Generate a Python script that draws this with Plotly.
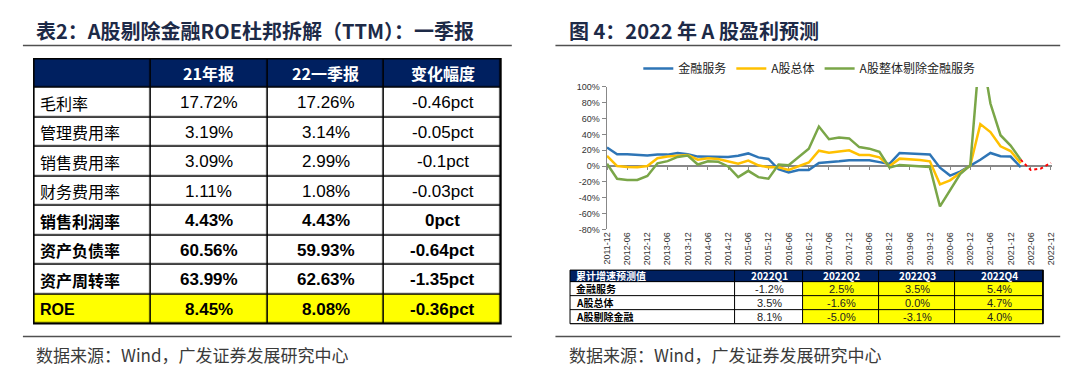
import plotly.graph_objects as go

W, H = 1080, 366


def px(x):
    return x / W


def py(y):
    return 1 - y / H


# ---------------- Left table data ----------------
roe_items = ["毛利率", "管理费用率", "销售费用率", "财务费用率",
             "销售利润率", "资产负债率", "资产周转率", "ROE"]
fy21 = [17.72, 3.19, 3.09, 1.11, 4.43, 60.56, 63.99, 8.45]
q1_22 = [17.26, 3.14, 2.99, 1.08, 4.43, 59.93, 62.63, 8.08]
chg_pct = [-0.46, -0.05, -0.1, -0.03, 0, -0.64, -1.35, -0.36]
left_header = ["", "21年报", "22一季报", "变化幅度"]

# ---------------- Right table data ----------------
fc_header = ["累计增速预测值", "2022Q1", "2022Q2", "2022Q3", "2022Q4"]
fc_rows = ["金融服务", "A股总体", "A股剔除金融"]
fc_fin = [-1.2, 2.5, 3.5, 5.4]
fc_all = [3.5, -1.6, 0.0, 4.7]
fc_exfin = [8.1, -5.0, -3.1, 4.0]

# ---------------- Line chart data (quarterly, 2011-12 .. 2022-03) ----------------
quarters = []
for yr in range(2011, 2023):
    for m in ["03", "06", "09", "12"]:
        q = f"{yr}-{m}"
        if "2011-12" <= q <= "2022-12":
            quarters.append(q)

fin_service = [23.5, 15, 15, 14.5, 13.5, 14.5, 14.5, 16.5, 15, 12, 12, 12, 11.5, 13, 16, 11,
               9, -4, -8, -5, -5, 4, 4.7, 6, 7.3, 7.3, 7.3, 5, 2.7, 16.6, 16, 16.2, 14.7,
               -2, -12, -7, 0, 8, 16.6, 12.5, 12, -1.2]
a_total = [13, 0, -1, -1.5, 0, 10, 12, 13, 14, 8, 10, 9, 6, 3, 7, 1,
           -1.5, -1.5, -5, 0, 4.5, 19.5, 17, 18.4, 20, 14, 14, 11, 0, 9.4, 8.6, 7.8, 6,
           -23, -18, -8, 0.8, 53, 43, 25, 19, 3.5]
a_ex_fin = [3, -16, -17.5, -17.5, -12.5, 3.5, 6.3, 11.6, 13.3, 2, 6, 5.5, -0.5, -14, -6, -14,
            -16, 2, 1, 12, 22, 50, 34, 36, 35, 24, 22, 18, -2, 1.5, 0.8, 0, -1.2,
            -51, -31, -10, 1, 155, 79, 39, 26, 8.1]
hist_q = quarters[:len(fin_service)]
fc_q = quarters[len(fin_service) - 1:]
y_ticks = list(range(-80, 101, 20))

TITLE_C = "#1d2a47"
NAVY = "#002060"
YEL = "#FFFF00"
FONT = "Liberation Sans, Noto Sans CJK SC, sans-serif"
CJK = "Noto Sans CJK SC, Liberation Sans, sans-serif"
CSCALE = [[0, "white"], [0.33, "white"], [0.33, YEL], [0.67, YEL], [0.67, NAVY], [1, NAVY]]

fig = go.Figure()
anns = []
shapes = []


def edges(sizes):
    out = [0.0]
    for s in sizes:
        out.append(out[-1] + s)
    return out


def add_table(ax, ay, dom_x, dom_y, colw, rowh, z, texts, fonts, gap, border):
    xe, ye = edges(colw), edges(rowh)
    fig.add_trace(go.Heatmap(x=xe, y=ye, z=z, colorscale=CSCALE, zmin=0, zmax=2,
                             showscale=False, xgap=gap, ygap=gap, hoverinfo="skip",
                             xaxis=ax, yaxis=ay))
    n = ax[1:]
    fig.layout[f"xaxis{n}"] = dict(domain=dom_x, range=[0, xe[-1]], visible=False,
                                   anchor=ay, fixedrange=True)
    fig.layout[f"yaxis{n}"] = dict(domain=dom_y, range=[ye[-1], 0], visible=False,
                                   anchor=ax, fixedrange=True)
    for r in range(len(rowh)):
        for c in range(len(colw)):
            t = texts[r][c]
            if not t:
                continue
            left = (c == 0 and r > 0) or (c == 0 and len(colw) == 5)
            anns.append(dict(text=t, xref=ax, yref=ay,
                             x=xe[c] + 4 if left else (xe[c] + xe[c + 1]) / 2,
                             xanchor="left" if left else "center",
                             y=(ye[r] + ye[r + 1]) / 2, yanchor="middle",
                             showarrow=False, font=fonts[r][c]))
    shapes.append(dict(type="rect", xref=f"{ax} domain", yref=f"{ay} domain",
                       x0=0, x1=1, y0=0, y1=1, fillcolor="black",
                       line=dict(width=0), layer="below"))
    shapes.append(dict(type="rect", xref=f"{ax} domain", yref=f"{ay} domain",
                       x0=0, x1=1, y0=0, y1=1, line=dict(color="black", width=border),
                       layer="above"))


# ---------------- Left table ----------------
n_items = len(roe_items)
z_left = [[2] * 4] + [[0] * 4 for _ in range(n_items - 1)] + [[1] * 4]
t_left = [[f"<b>{h}</b>" for h in left_header]]
f_left = [[dict(family=CJK, size=16, color="white")] * 4]
for i in range(n_items):
    b = i >= 4
    row = [roe_items[i], f"{fy21[i]:.2f}%", f"{q1_22[i]:.2f}%", f"{chg_pct[i]:g}pct"]
    t_left.append([f"<b>{s}</b>" if b else s for s in row])
    f_left.append([dict(family=CJK if i < 7 else FONT, size=16, color="black")] +
                  [dict(family=FONT, size=17, color="black")] * 3)
add_table("x3", "y3", [px(21), px(492)], [py(319.5), py(47)],
          [117.75] * 4, [30] + [30.3] * n_items, z_left, t_left, f_left, 1.6, 1.6)

# ---------------- Right table ----------------
z_fc = [[2] * 5] + [[0, 0, 1, 1, 1] for _ in fc_rows]
t_fc = [[f"<b>{h}</b>" for h in fc_header]]
f_fc = [[dict(family=CJK, size=10, color="white")] * 5]
for i, (name, s) in enumerate(zip(fc_rows, (fc_fin, fc_all, fc_exfin))):
    t_fc.append([f"<b>{name}</b>"] + [f"{v:.1f}%" for v in s])
    f_fc.append([dict(family=CJK, size=10, color="black")] +
                [dict(family=FONT, size=11, color="#222")] * 4)
add_table("x4", "y4", [px(561.7), px(1039)], [py(319.5), py(264.3)],
          [166.7, 68.3, 76.7, 76.7, 88.9], [12, 14.4, 14.4, 14.4], z_fc, t_fc, f_fc, 1, 1)

# ---------------- Line chart ----------------
fig.add_trace(go.Scatter(x=hist_q, y=fin_service, mode="lines", name="金融服务",
                         line=dict(color="#2E75B6", width=2.5)))
fig.add_trace(go.Scatter(x=hist_q, y=a_total, mode="lines", name="A股总体",
                         line=dict(color="#FFC000", width=2.5)))
fig.add_trace(go.Scatter(x=hist_q, y=a_ex_fin, mode="lines", name="A股整体剔除金融服务",
                         line=dict(color="#7AA648", width=2.5)))
fig.add_trace(go.Scatter(x=fc_q, y=fc_exfin, mode="lines", showlegend=False,
                         line=dict(color="#FF0000", width=2, dash="dot")))
# helper trace for zero-line axis
fig.add_trace(go.Scatter(x=quarters, y=[None] * len(quarters), xaxis="x2", yaxis="y",
                         mode="lines", showlegend=False, hoverinfo="skip"))

xr = [-0.05, len(quarters) - 1 + 0.13]
fig.update_layout(
    width=W, height=H, margin=dict(l=0, r=0, t=0, b=0),
    paper_bgcolor="white", plot_bgcolor="white",
    showlegend=True,
    legend=dict(orientation="h", x=px(803), xanchor="center", y=py(57), yanchor="middle",
                font=dict(family=CJK, size=12, color="#222"), itemwidth=30,
                bgcolor="rgba(0,0,0,0)"),
    xaxis=dict(domain=[px(598.5), px(1048)], type="category",
               categoryorder="array", categoryarray=quarters, range=xr,
               tickvals=quarters[::2], tickangle=-90, ticks="", showline=False,
               showgrid=False, zeroline=False, anchor="y",
               tickfont=dict(family=FONT, size=9, color="#333")),
    xaxis2=dict(overlaying="x", anchor="free", position=py(157.4), type="category",
                categoryorder="array", categoryarray=quarters, range=xr,
                tickvals=quarters[::2], showticklabels=False, ticks="outside", ticklen=3,
                tickcolor="#888", showline=True, linecolor="#888", linewidth=1.5,
                showgrid=False, zeroline=False, layer="below traces"),
    yaxis=dict(domain=[py(222.5), py(76)], range=[-80, 100], tickmode="array",
               tickvals=y_ticks, ticktext=[f"{v}%" for v in y_ticks],
               ticks="outside", ticklen=4, tickcolor="#888",
               showline=True, linecolor="#888", linewidth=1, showgrid=False,
               zeroline=False, tickfont=dict(family=FONT, size=9, color="#333")),
)

# ---------------- Titles, rules, sources ----------------
texts = [
    ("<b>表2：A股剔除金融ROE杜邦拆解（TTM）：一季报</b>", 21, 18, 20, TITLE_C),
    ("<b>图 4：2022 年 A 股盈利预测</b>", 559, 18, 20, TITLE_C),
    ("数据来源：Wind，广发证券发展研究中心", 21, 351, 17, "#3a3a3a"),
    ("数据来源：Wind，广发证券发展研究中心", 559, 351, 17, "#3a3a3a"),
]
for t, x, y, s, c in texts:
    anns.append(dict(text=t, x=px(x), y=py(y), xref="paper", yref="paper",
                     xanchor="left", yanchor="middle", showarrow=False,
                     font=dict(family=CJK, size=s, color=c)))

for x0, x1 in [(10, 503), (547, 1056)]:
    for yy in (33.5, 332.7):
        shapes.append(dict(type="line", xref="paper", yref="paper",
                           x0=px(x0), x1=px(x1), y0=py(yy), y1=py(yy),
                           line=dict(color="#505050", width=1.5)))
fig.update_layout(annotations=anns, shapes=shapes)

fig.write_html("out.html")
